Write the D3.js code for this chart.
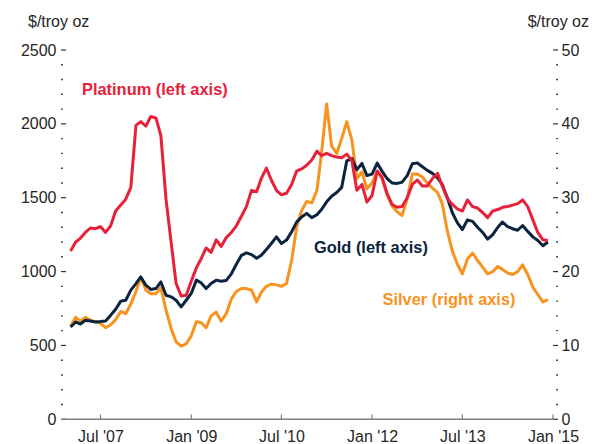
<!DOCTYPE html>
<html><head><meta charset="utf-8">
<script src="https://cdn.jsdelivr.net/npm/d3@7"></script>
<style>
html,body{margin:0;padding:0;background:#fff;}
svg{display:block;font-family:"Liberation Sans",Arial,Helvetica,sans-serif;}
</style></head>
<body><svg id="chart" width="592" height="444"></svg>
<script>
// Monthly data, Jan 2007 .. Dec 2014
const startYear = 2007, startMonth = 0;
const platinum = [1140,1200,1225,1265,1295,1290,1305,1265,1310,1410,1450,1490,
  1570,1990,2015,1985,2050,2040,1920,1490,1200,920,835,840,
  935,1025,1085,1160,1130,1215,1170,1230,1265,1310,1375,1440,
  1550,1540,1630,1700,1620,1550,1520,1530,1590,1680,1695,1720,
  1755,1815,1785,1800,1785,1775,1770,1795,1750,1550,1590,1470,
  1515,1680,1640,1530,1455,1435,1440,1500,1590,1620,1580,1580,
  1630,1665,1580,1495,1455,1425,1410,1485,1440,1430,1400,1365,
  1410,1420,1435,1440,1450,1460,1485,1440,1350,1265,1215,1210];
const gold = [625,659,645,671,665,659,662,666,705,745,800,806,
  874,919,964,908,879,885,930,840,829,806,761,806,
  852,942,924,885,919,942,935,940,985,1050,1110,1127,
  1115,1090,1110,1150,1190,1235,1190,1213,1270,1335,1370,1394,
  1365,1385,1420,1472,1510,1535,1570,1750,1765,1690,1732,1650,
  1660,1735,1680,1630,1600,1597,1605,1650,1730,1736,1710,1685,
  1665,1635,1590,1500,1400,1330,1285,1350,1340,1300,1265,1220,
  1250,1300,1335,1305,1290,1280,1312,1272,1235,1210,1175,1200];
const silver = [12.6,13.8,13.3,13.8,13.4,13.2,13.0,12.4,12.8,13.5,14.6,14.3,
  15.6,17.3,19.2,17.5,17.0,17.0,17.8,14.8,12.3,10.5,9.9,10.2,
  11.3,13.2,13.1,12.4,14.0,14.5,13.3,14.3,16.3,17.3,17.7,17.7,
  17.5,15.9,17.2,18.0,18.3,18.2,18.0,18.4,21.5,26.0,28.3,29.5,
  29.3,31.0,36.0,42.7,37.0,36.0,38.0,40.3,37.8,32.6,33.5,31.2,
  32.0,33.6,32.6,30.4,28.9,28.1,27.6,29.9,33.2,33.2,32.8,32.0,
  31.3,30.7,29.2,25.5,22.8,21.0,19.7,21.7,22.5,21.5,20.6,19.7,
  20.0,20.7,20.3,19.8,19.6,20.0,20.9,19.6,17.9,16.9,15.9,16.2];
const xTickLabels = ["Jul '07","Jan '09","Jul '10","Jan '12","Jul '13","Jan '15"];
const xTickDates = [new Date(2007,6,1),new Date(2009,0,1),new Date(2010,6,1),new Date(2012,0,1),new Date(2013,6,1),new Date(2015,0,1)];
const leftTicks = [0,500,1000,1500,2000,2500];
const rightTicks = [0,10,20,30,40,50];
const unitLabel = "$/troy oz";
const seriesLabels = ["Platinum (left axis)","Gold (left axis)","Silver (right axis)"];

const colors = {platinum:"#E8213A", gold:"#0C2340", silver:"#F7931E"};
const dates = platinum.map((_,i)=>new Date(startYear, startMonth+i, 1));

const svg = d3.select("#chart");
const x = d3.scaleTime().domain([new Date(2006,10,4), new Date(2015,0,1)]).range([61,553]);
const yL = d3.scaleLinear().domain([0,2500]).range([419.3,50]);
const yR = d3.scaleLinear().domain([0,50]).range([419.3,50]);

const axisColor = "#7f7f7f", textColor = "#262626";

// left axis ticks
const gl = svg.append("g");
d3.range(0,2501,100).forEach(v=>{
  const major = v%500===0;
  gl.append("line").attr("x1",61).attr("x2",major?66:62.8)
    .attr("y1",yL(v)).attr("y2",yL(v))
    .attr("stroke","#333").attr("stroke-width",major?1.2:1.4);
});
gl.selectAll("text").data(leftTicks).join("text")
  .attr("x",56.5).attr("y",d=>yL(d)).attr("dy","0.35em")
  .attr("text-anchor","end").attr("font-size",16).attr("fill",textColor).text(d=>d);

// right axis ticks
const gr = svg.append("g");
d3.range(0,51,2).forEach(v=>{
  const major = v%10===0;
  gr.append("line").attr("x1",major?553:556.2).attr("x2",558)
    .attr("y1",yR(v)).attr("y2",yR(v))
    .attr("stroke","#333").attr("stroke-width",major?1.2:1.4);
});
gr.selectAll("text").data(rightTicks).join("text")
  .attr("x",561.5).attr("y",d=>yR(d)).attr("dy","0.35em")
  .attr("text-anchor","start").attr("font-size",16).attr("fill",textColor).text(d=>d);

// bottom axis
const xAxis = d3.axisBottom(x).tickValues(xTickDates).tickSize(0)
  .tickFormat((d,i)=>xTickLabels[i]);
const gx = svg.append("g").attr("transform","translate(0,419.3)").call(xAxis);
gx.select(".domain").remove();
gx.selectAll("text").attr("font-size",16).attr("fill",textColor)
  .attr("font-family","Liberation Sans, Arial, sans-serif").attr("dy",0).attr("y",22.5);
svg.append("line").attr("x1",61).attr("x2",553.5).attr("y1",419.3).attr("y2",419.3)
  .attr("stroke",axisColor).attr("stroke-width",1.4);
svg.append("g").selectAll("line").data(xTickDates).join("line")
  .attr("x1",d=>x(d)).attr("x2",d=>x(d)).attr("y1",414.5).attr("y2",419.3)
  .attr("stroke",axisColor).attr("stroke-width",1.2);

// unit labels
svg.append("text").attr("x",28).attr("y",27).attr("font-size",16).attr("fill",textColor).text(unitLabel);
svg.append("text").attr("x",589).attr("y",27).attr("text-anchor","end").attr("font-size",16).attr("fill",textColor).text(unitLabel);

// lines
const lineL = d3.line().x((d,i)=>x(dates[i])).y(d=>yL(d)).curve(d3.curveLinear);
const lineR = d3.line().x((d,i)=>x(dates[i])).y(d=>yR(d)).curve(d3.curveLinear);
svg.append("path").datum(silver).attr("d",lineR).attr("fill","none")
  .attr("stroke",colors.silver).attr("stroke-width",3).attr("stroke-linejoin","round");
svg.append("path").datum(gold).attr("d",lineL).attr("fill","none")
  .attr("stroke",colors.gold).attr("stroke-width",3).attr("stroke-linejoin","round");
svg.append("path").datum(platinum).attr("d",lineL).attr("fill","none")
  .attr("stroke",colors.platinum).attr("stroke-width",3).attr("stroke-linejoin","round");

// series labels
const lab = [
  {t:seriesLabels[0], x:82, y:95, c:colors.platinum},
  {t:seriesLabels[1], x:314, y:252.5, c:colors.gold},
  {t:seriesLabels[2], x:382.5, y:305, c:colors.silver}
];
svg.append("g").selectAll("text").data(lab).join("text")
  .attr("x",d=>d.x).attr("y",d=>d.y).attr("fill",d=>d.c)
  .attr("font-size",16.4).attr("font-weight","bold").text(d=>d.t);
</script></body></html>
